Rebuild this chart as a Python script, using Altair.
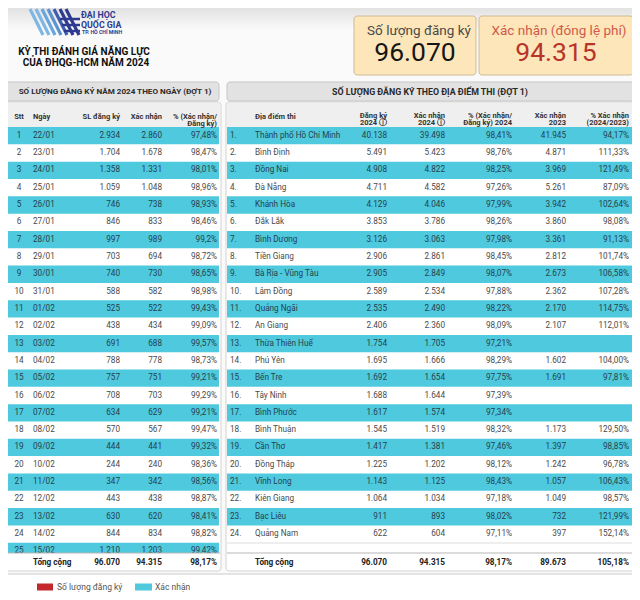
import altair as alt
import pandas as pd

FONT = "Roboto"

# ---------------- data ----------------
day_stt = list(range(1, 26))
day_dates = ["22/01", "23/01", "24/01", "25/01", "26/01", "27/01", "28/01", "29/01", "30/01", "31/01",
             "01/02", "02/02", "03/02", "04/02", "05/02", "06/02", "07/02", "08/02", "09/02", "10/02",
             "11/02", "12/02", "13/02", "14/02", "15/02"]
day_registered = [2934, 1704, 1358, 1059, 746, 846, 997, 703, 740, 588, 525, 438, 691, 788, 757,
                  708, 634, 570, 444, 244, 347, 443, 630, 844, 1210]
day_confirmed = [2860, 1678, 1331, 1048, 738, 833, 989, 694, 730, 582, 522, 434, 688, 778, 751,
                 703, 629, 567, 441, 240, 342, 438, 620, 834, 1203]
day_pct = ["97,48%", "98,47%", "98,01%", "98,96%", "98,93%", "98,46%", "99,2%", "98,72%", "98,65%",
           "98,98%", "99,43%", "99,09%", "99,57%", "98,73%", "99,21%", "99,29%", "99,21%", "99,47%",
           "99,32%", "98,36%", "98,56%", "98,87%", "98,41%", "98,82%", "99,42%"]

site_names = ["Thành phố Hồ Chí Minh", "Bình Định", "Đồng Nai", "Đà Nẵng", "Khánh Hòa", "Đắk Lắk",
              "Bình Dương", "Tiền Giang", "Bà Rịa - Vũng Tàu", "Lâm Đồng", "Quảng Ngãi", "An Giang",
              "Thừa Thiên Huế", "Phú Yên", "Bến Tre", "Tây Ninh", "Bình Phước", "Bình Thuận",
              "Cần Thơ", "Đồng Tháp", "Vĩnh Long", "Kiên Giang", "Bạc Liêu", "Quảng Nam"]
site_reg_2024 = [40138, 5491, 4908, 4711, 4129, 3853, 3126, 2906, 2905, 2589, 2535, 2406, 1754,
                 1695, 1692, 1688, 1617, 1545, 1417, 1225, 1143, 1064, 911, 622]
site_conf_2024 = [39498, 5423, 4822, 4582, 4046, 3786, 3063, 2861, 2849, 2534, 2490, 2360, 1705,
                  1666, 1654, 1644, 1574, 1519, 1381, 1202, 1125, 1034, 893, 604]
site_pct_2024 = ["98,41%", "98,76%", "98,25%", "97,26%", "97,99%", "98,26%", "97,98%", "98,45%",
                 "98,07%", "97,88%", "98,22%", "98,09%", "97,21%", "98,29%", "97,75%", "97,39%",
                 "97,34%", "98,32%", "97,46%", "98,12%", "98,43%", "97,18%", "98,02%", "97,11%"]
site_conf_2023 = [41945, 4871, 3969, 5261, 3942, 3860, 3361, 2812, 2673, 2362, 2170, 2107, None,
                  1602, 1691, None, None, 1173, 1397, 1242, 1057, 1049, 732, 397]
site_pct_24_23 = ["94,17%", "111,33%", "121,49%", "87,09%", "102,64%", "98,08%", "91,13%", "101,74%",
                  "106,58%", "107,28%", "114,75%", "112,01%", "", "104,00%", "97,81%", "", "",
                  "129,50%", "98,85%", "96,78%", "106,43%", "98,57%", "121,99%", "152,14%"]

total_registered = 96070
total_confirmed = 94315
total_pct = "98,17%"
total_conf_2023 = 89673
total_pct_24_23 = "105,18%"

kpi_labels = ["Số lượng đăng ký", "Xác nhận (đóng lệ phí)"]
kpi_values = [total_registered, total_confirmed]
legend_labels = ["Số lượng đăng ký", "Xác nhận"]
legend_colors = ["#c3282d", "#4fc9de"]


def vn(n):
    return "" if n is None else f"{n:,}".replace(",", ".")


# ---------------- layout ----------------
XS = alt.Scale(domain=[8, 632], nice=False, zero=False)
YS = alt.Scale(domain=[8, 592], nice=False, zero=False, reverse=True)
ROW0, PITCH = 135.7, 17.32
CYAN = "#4fc9de"
TXT_CYAN, TXT_WHITE = "#24424b", "#4a4a4a"


def rowy(i):
    return ROW0 + i * PITCH


def T(rows, align="left", bold=False, lh=None, font=FONT):
    kw = dict(align=align, baseline="middle", font=font, fontWeight="bold" if bold else "normal")
    if lh:
        kw.update(lineBreak="\n", lineHeight=lh)
    return alt.Chart(pd.DataFrame(rows)).mark_text(**kw).encode(
        x=alt.X("x:Q", scale=XS, axis=None),
        y=alt.Y("y:Q", scale=YS, axis=None),
        text="text:N",
        size=alt.Size("size:Q", scale=None, legend=None),
        color=alt.Color("color:N", scale=None, legend=None),
    )


def R(rows, fill, stroke=None, sw=1.0, radius=0):
    kw = dict(fill=fill, cornerRadius=radius)
    if stroke:
        kw.update(stroke=stroke, strokeWidth=sw)
    return alt.Chart(pd.DataFrame(rows)).mark_rect(**kw).encode(
        x=alt.X("x:Q", scale=XS, axis=None), x2="x2:Q",
        y=alt.Y("y:Q", scale=YS, axis=None), y2="y2:Q",
    )


def L(rows, color, sw=1.0):
    return alt.Chart(pd.DataFrame(rows)).mark_rule(color=color, strokeWidth=sw).encode(
        x=alt.X("x:Q", scale=XS, axis=None), x2="x2:Q",
        y=alt.Y("y:Q", scale=YS, axis=None), y2="y2:Q",
    )


layers = []

# top gradient
layers.append(alt.Chart(pd.DataFrame([{"x": 0, "x2": 640, "y": 0, "y2": 30}])).mark_rect(
    color=alt.LinearGradient(gradient="linear", x1=0, x2=0, y1=0, y2=1,
                             stops=[alt.GradientStop(color="#d9d9d9", offset=0),
                                    alt.GradientStop(color="#fafafa", offset=1)])
).encode(x=alt.X("x:Q", scale=XS, axis=None), x2="x2:Q",
         y=alt.Y("y:Q", scale=YS, axis=None), y2="y2:Q"))

# KPI boxes
layers.append(R([{"x": 354, "x2": 476, "y": 16, "y2": 75},
                 {"x": 479, "x2": 633, "y": 16, "y2": 75}], "#fde6b9", "#cdbb96", 1, 3))

# cards
layers.append(R([{"x": 4, "x2": 221, "y": 102, "y2": 571},
                 {"x": 226, "x2": 634, "y": 102, "y2": 571}], "#ffffff", "#d2d2d2", 1, 3))
# title bars
layers.append(R([{"x": 4, "x2": 219, "y": 82, "y2": 101},
                 {"x": 227, "x2": 634, "y": 82, "y2": 101}], "#e2e2e2", "#c6c6c6", 1, 3))
# header backgrounds
layers.append(R([{"x": 5, "x2": 220, "y": 103, "y2": 127},
                 {"x": 227, "x2": 633, "y": 103, "y2": 127}], "#efefef"))

# row bands
bands = []
for i in range(len(day_stt)):
    if i % 2 == 0:
        bands.append({"x": 7, "x2": 219, "y": rowy(i) - PITCH / 2, "y2": rowy(i) + PITCH / 2})
for i in range(len(site_names)):
    if i % 2 == 0:
        bands.append({"x": 227, "x2": 633, "y": rowy(i) - PITCH / 2, "y2": rowy(i) + PITCH / 2})
layers.append(R(bands, CYAN))

# row texts
FS = 8.2
left_rows, center_rows, right_rows = [], [], []
for i in range(len(day_stt)):
    c = TXT_CYAN if i % 2 == 0 else TXT_WHITE
    y = rowy(i)
    center_rows.append({"x": 19, "y": y, "text": str(day_stt[i]), "size": FS, "color": c})
    left_rows.append({"x": 33, "y": y, "text": day_dates[i], "size": FS, "color": c})
    right_rows.append({"x": 120, "y": y, "text": vn(day_registered[i]), "size": FS, "color": c})
    right_rows.append({"x": 162, "y": y, "text": vn(day_confirmed[i]), "size": FS, "color": c})
    right_rows.append({"x": 217, "y": y, "text": day_pct[i], "size": FS, "color": c})
for i in range(len(site_names)):
    c = TXT_CYAN if i % 2 == 0 else TXT_WHITE
    y = rowy(i)
    left_rows.append({"x": 230, "y": y, "text": f"{i + 1}.", "size": FS, "color": c})
    left_rows.append({"x": 255, "y": y, "text": site_names[i], "size": FS, "color": c})
    right_rows.append({"x": 387, "y": y, "text": vn(site_reg_2024[i]), "size": FS, "color": c})
    right_rows.append({"x": 445, "y": y, "text": vn(site_conf_2024[i]), "size": FS, "color": c})
    right_rows.append({"x": 512, "y": y, "text": site_pct_2024[i], "size": FS, "color": c})
    if site_conf_2023[i] is not None:
        right_rows.append({"x": 566, "y": y, "text": vn(site_conf_2023[i]), "size": FS, "color": c})
    if site_pct_24_23[i]:
        right_rows.append({"x": 629, "y": y, "text": site_pct_24_23[i], "size": FS, "color": c})
layers += [T(left_rows, "left"), T(center_rows, "center"), T(right_rows, "right")]

# total rows
layers.append(R([{"x": 5, "x2": 220, "y": 553, "y2": 570},
                 {"x": 227, "x2": 633, "y": 553, "y2": 570}], "#ffffff"))
layers.append(L([{"x": 5, "x2": 220, "y": 553, "y2": 553},
                 {"x": 227, "x2": 633, "y": 553, "y2": 553}], "#b8b8b8", 1.2))
layers.append(L([{"x": 227, "x2": 633, "y": 543, "y2": 543}], "#dddddd", 1))
TY = 562.7
tot_left = [{"x": 33, "y": TY, "text": "Tổng cộng", "size": FS, "color": "#222"},
            {"x": 255, "y": TY, "text": "Tổng cộng", "size": FS, "color": "#222"}]
tot_right = [{"x": 120, "y": TY, "text": vn(total_registered), "size": FS, "color": "#222"},
             {"x": 162, "y": TY, "text": vn(total_confirmed), "size": FS, "color": "#222"},
             {"x": 217, "y": TY, "text": total_pct, "size": FS, "color": "#222"},
             {"x": 387, "y": TY, "text": vn(total_registered), "size": FS, "color": "#222"},
             {"x": 445, "y": TY, "text": vn(total_confirmed), "size": FS, "color": "#222"},
             {"x": 512, "y": TY, "text": total_pct, "size": FS, "color": "#222"},
             {"x": 566, "y": TY, "text": vn(total_conf_2023), "size": FS, "color": "#222"},
             {"x": 629, "y": TY, "text": total_pct_24_23, "size": FS, "color": "#222"}]
layers += [T(tot_left, "left", True), T(tot_right, "right", True)]

# headers
HC = "#333333"
layers.append(T([{"x": 19, "y": 116.7, "text": "Stt", "size": 7.5, "color": HC}], "center", True))
layers.append(T([{"x": 33, "y": 116.7, "text": "Ngày", "size": 7.5, "color": HC},
                 {"x": 255, "y": 116.7, "text": "Địa điểm thi", "size": 7.5, "color": HC}], "left", True))
layers.append(T([{"x": 120, "y": 116.7, "text": "SL đăng ký", "size": 7.5, "color": HC},
                 {"x": 162, "y": 116.7, "text": "Xác nhận", "size": 7.5, "color": HC},
                 {"x": 217, "y": 116.7, "text": "% (Xác nhận/\nĐăng ký)", "size": 7.5, "color": HC},
                 {"x": 387, "y": 115.7, "text": "Đăng ký\n2024 ⓘ", "size": 7.5, "color": HC},
                 {"x": 445, "y": 115.7, "text": "Xác nhận\n2024 ⓘ", "size": 7.5, "color": HC},
                 {"x": 512, "y": 115.7, "text": "% (Xác nhận/\nĐăng ký) 2024", "size": 7.5, "color": HC},
                 {"x": 566, "y": 115.7, "text": "Xác nhận\n2023", "size": 7.5, "color": HC},
                 {"x": 629, "y": 115.7, "text": "% Xác nhận\n(2024/2023)", "size": 7.5, "color": HC}],
                "right", True, lh=7.6))

# title bars text
layers.append(T([{"x": 115, "y": 91.5, "text": "SỐ LƯỢNG ĐĂNG KÝ NĂM 2024 THEO NGÀY (ĐỢT 1)", "size": 8.1, "color": "#2a2a2a"},
                 {"x": 430, "y": 91.5, "text": "SỐ LƯỢNG ĐĂNG KÝ THEO ĐỊA ĐIỂM THI (ĐỢT 1)", "size": 8.8, "color": "#2a2a2a"}],
                "center", True))

# main title
layers.append(T([{"x": 84, "y": 51.7, "text": "KỲ THI ĐÁNH GIÁ NĂNG LỰC", "size": 10, "color": "#111"},
                 {"x": 86, "y": 62.7, "text": "CỦA ĐHQG-HCM NĂM 2024", "size": 10, "color": "#111"}],
                "center", True))

# KPI texts
layers.append(T([{"x": 419, "y": 30.5, "text": kpi_labels[0], "size": 13.5, "color": "#4a4a4a"},
                 {"x": 559, "y": 30.5, "text": kpi_labels[1], "size": 13.5, "color": "#cf5a4c"}], "center"))
layers.append(T([{"x": 415, "y": 53, "text": vn(kpi_values[0]), "size": 26.5, "color": "#161616"},
                 {"x": 556, "y": 53, "text": vn(kpi_values[1]), "size": 26.5, "color": "#b8342a"}], "center"))

# logo stripes
stripe_x = [30, 36, 42, 48, 54, 60, 66]
stripe_c = ["#7fb6e3", "#7fb6e3", "#6aa6dc", "#5d93d0", "#3f5fae", "#2e3a8f", "#2e3a8f"]
for sx, sc in zip(stripe_x, stripe_c):
    layers.append(L([{"x": sx, "x2": sx + 13, "y": 9, "y2": 35}], sc, 3.2))
layers.append(L([{"x": 60, "x2": 80, "y": 19, "y2": 19},
                 {"x": 62, "x2": 80, "y": 25, "y2": 25},
                 {"x": 64, "x2": 80, "y": 31, "y2": 31}], "#2e3a8f", 2.5))
layers.append(T([{"x": 81, "y": 15, "text": "ĐẠI HỌC", "size": 8.8, "color": "#2e3a8f"},
                 {"x": 81, "y": 24.5, "text": "QUỐC GIA", "size": 8.8, "color": "#2e3a8f"},
                 {"x": 82, "y": 32, "text": "TP. HỒ CHÍ MINH", "size": 5.2, "color": "#2e3a8f"}],
                "left", True))

# legend box (kept inside the visible frame)
layers.append(R([{"x": 6, "x2": 634, "y": 574, "y2": 606}], "#ffffff", "#cccccc", 1, 3))
layers.append(alt.Chart(pd.DataFrame({"x": [37, 135], "x2": [53, 152], "y": [583.5, 583.5], "y2": [590.5, 590.5],
                                      "c": legend_colors})).mark_rect().encode(
    x=alt.X("x:Q", scale=XS, axis=None), x2="x2:Q",
    y=alt.Y("y:Q", scale=YS, axis=None), y2="y2:Q",
    color=alt.Color("c:N", scale=None, legend=None)))
layers.append(T([{"x": 57, "y": 587, "text": legend_labels[0], "size": 8.5, "color": "#555"},
                 {"x": 155, "y": 587, "text": legend_labels[1], "size": 8.5, "color": "#555"}], "left"))

chart = alt.layer(*layers).properties(
    width=624, height=584, padding=0,
    autosize=alt.AutoSizeParams(type="none"),
    background="#fafafa",
).configure_view(stroke=None)

chart.save("out.html", embed_options={"renderer": "svg", "actions": False})
